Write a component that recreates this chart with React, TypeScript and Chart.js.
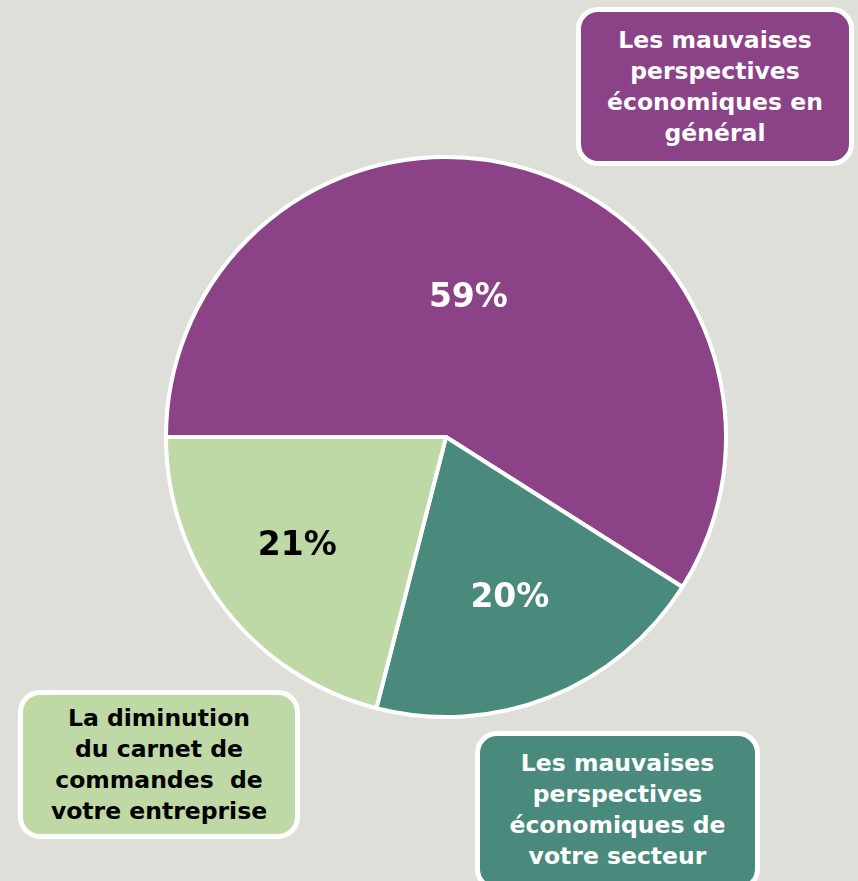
import React, { useEffect, useRef } from "react";
import { Chart, registerables } from "chart.js";

Chart.register(...registerables);

const categories = [
  "Les mauvaises perspectives économiques en général",
  "Les mauvaises perspectives économiques de votre secteur",
  "La diminution du carnet de commandes  de votre entreprise",
];
const values = [59, 20, 21];
const valueLabels = ["59%", "20%", "21%"];
const colors = ["#8b4286", "#498a7d", "#bed9a6"];
const labelColors = ["#ffffff", "#ffffff", "#000000"];
// label placement per slice: [angle offset from slice middle (deg), radius fraction]
const labelPlacement = [
  [-7, 0.5],
  [0, 0.62],
  [1.4, 0.66],
];

const BG = "#dfdfda";
const FONT = "'DejaVu Sans', Verdana, sans-serif";

const pctPlugin = {
  id: "pctLabels",
  afterDatasetsDraw(chart: any) {
    const meta = chart.getDatasetMeta(0);
    const ctx = chart.ctx;
    ctx.save();
    ctx.font = `bold 33px ${FONT}`;
    ctx.textAlign = "center";
    ctx.textBaseline = "middle";
    meta.data.forEach((arc: any, i: number) => {
      const p = arc.getProps(["x", "y", "startAngle", "endAngle", "outerRadius"], true);
      const mid = (p.startAngle + p.endAngle) / 2 + (labelPlacement[i][0] * Math.PI) / 180;
      const r = p.outerRadius * labelPlacement[i][1];
      ctx.fillStyle = labelColors[i];
      ctx.fillText(valueLabels[i], p.x + Math.cos(mid) * r, p.y + Math.sin(mid) * r);
    });
    ctx.restore();
  },
};

const boxBase: React.CSSProperties = {
  position: "absolute",
  boxSizing: "border-box",
  border: "5px solid #ffffff",
  borderRadius: 22,
  display: "flex",
  alignItems: "center",
  justifyContent: "center",
  textAlign: "center",
  fontFamily: FONT,
  fontWeight: "bold",
  fontSize: 23.5,
  lineHeight: "31px",
  whiteSpace: "pre-wrap",
};

export default function App() {
  const ref = useRef<HTMLCanvasElement>(null);
  useEffect(() => {
    if (!ref.current) return;
    const chart = new Chart(ref.current, {
      type: "pie",
      data: {
        labels: categories,
        datasets: [
          {
            data: values,
            backgroundColor: colors,
            borderColor: "#ffffff",
            borderWidth: 4,
          },
        ],
      },
      options: {
        animation: false,
        responsive: false,
        rotation: -90,
        layout: { padding: { left: 164, right: 130, top: 155, bottom: 162 } },
        plugins: {
          legend: { display: false },
          tooltip: { enabled: false },
        },
      },
      plugins: [pctPlugin],
    });
    return () => chart.destroy();
  }, []);

  return (
    <div
      style={{
        position: "fixed",
        left: 0,
        top: 0,
        width: 858,
        height: 881,
        background: BG,
        overflow: "hidden",
      }}
    >
      <canvas ref={ref} width={858} height={881} style={{ position: "absolute", left: 0, top: 0 }} />
      <div style={{ ...boxBase, left: 576, top: 7, width: 278, height: 159, background: colors[0], color: "#fff" }}>
        {"Les mauvaises\nperspectives\néconomiques en\ngénéral"}
      </div>
      <div style={{ ...boxBase, left: 475, top: 731, width: 285, height: 160, background: colors[1], color: "#fff", alignItems: "flex-start", paddingTop: 12 }}>
        {"Les mauvaises\nperspectives\néconomiques de\nvotre secteur"}
      </div>
      <div style={{ ...boxBase, left: 18, top: 690, width: 282, height: 149, background: colors[2], color: "#000" }}>
        {"La diminution\ndu carnet de\ncommandes  de\nvotre entreprise"}
      </div>
    </div>
  );
}
